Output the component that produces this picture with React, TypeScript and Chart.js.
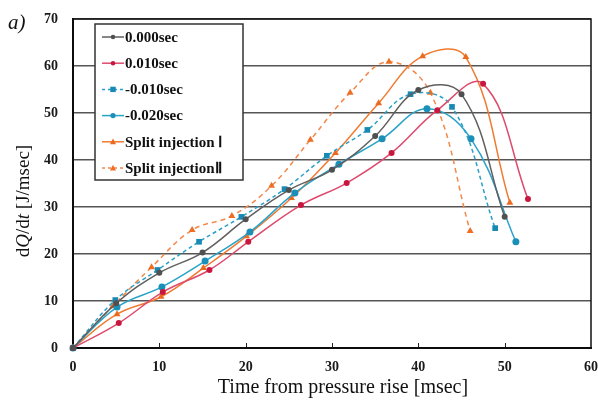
import React, { useEffect, useRef } from "react";
import { Chart, registerables } from "chart.js";

Chart.register(...registerables);

// ---- data ----
const xTickValues = [0, 10, 20, 30, 40, 50, 60];
const yTickValues = [0, 10, 20, 30, 40, 50, 60, 70];

const seriesLabels = [
  "0.000sec",
  "0.010sec",
  "-0.010sec",
  "-0.020sec",
  "Split injection Ⅰ",
  "Split injectionⅡ",
];

const t000X = [0, 5, 10, 15, 20, 25, 30, 35, 40, 45, 50];
const t000Y = [0, 9.5, 16.0, 20.3, 27.4, 33.6, 37.9, 45.1, 54.9, 54.0, 27.9];

const t010X = [0, 5.3, 10.4, 15.8, 20.3, 26.4, 31.7, 36.9, 42.2, 47.5, 52.7];
const t010Y = [0, 5.3, 11.9, 16.6, 22.6, 30.4, 35.1, 41.5, 50.6, 56.2, 31.7];

const tm010X = [0, 4.9, 9.8, 14.6, 19.5, 24.5, 29.4, 34.1, 39.1, 43.9, 48.9];
const tm010Y = [0, 10.2, 16.6, 22.6, 27.9, 33.8, 40.9, 46.4, 54.0, 51.3, 25.5];

const tm020X = [0, 5.1, 10.3, 15.3, 20.5, 25.7, 30.8, 35.8, 41.0, 46.1, 51.3];
const tm020Y = [0, 8.7, 13.0, 18.5, 24.7, 33.0, 39.1, 44.5, 50.9, 44.5, 22.6];

const split1X = [0, 5.1, 10.2, 15.1, 20.1, 25.3, 30.4, 35.4, 40.5, 45.5, 50.6];
const split1Y = [0, 7.2, 10.9, 17.0, 23.8, 31.9, 41.5, 52.1, 62.1, 61.9, 30.9];

const split2X = [0, 4.6, 9.1, 13.8, 18.4, 23.0, 27.5, 32.1, 36.6, 41.4, 46.0];
const split2Y = [0, 8.9, 17.2, 25.1, 28.1, 34.5, 44.3, 54.3, 60.9, 54.3, 24.9];

const xTitle = "Time from pressure rise [msec]";
const panelLabel = "a)";

// ---- styles ----
const styles = [
  { line: "#5f5f5f", point: "#505050", dash: [] as number[], shape: "circle", r: 3 },
  { line: "#de4a6c", point: "#c8163e", dash: [] as number[], shape: "circle", r: 3 },
  { line: "#2a9fc8", point: "#1789b3", dash: [4, 3], shape: "rect", r: 4 },
  { line: "#2aa3c9", point: "#1a8fb8", dash: [] as number[], shape: "circle", r: 3.5 },
  { line: "#f07a30", point: "#ec6a1e", dash: [] as number[], shape: "triangle", r: 4 },
  { line: "#f3884a", point: "#ee6e24", dash: [5, 4], shape: "triangle", r: 4 },
];

const zip = (xs: number[], ys: number[]) => xs.map((x, i) => ({ x, y: ys[i] }));

const seriesData = [
  zip(t000X, t000Y),
  zip(t010X, t010Y),
  zip(tm010X, tm010Y),
  zip(tm020X, tm020Y),
  zip(split1X, split1Y),
  zip(split2X, split2Y),
];

const SERIF = "'Liberation Serif', 'Times New Roman', serif";

function drawMarker(ctx: CanvasRenderingContext2D, shape: string, x: number, y: number, r: number, color: string) {
  ctx.fillStyle = color;
  ctx.beginPath();
  if (shape === "circle") {
    ctx.arc(x, y, r, 0, Math.PI * 2);
  } else if (shape === "rect") {
    ctx.rect(x - r * 0.9, y - r * 0.9, r * 1.8, r * 1.8);
  } else {
    ctx.moveTo(x, y - r * 1.1);
    ctx.lineTo(x + r, y + r * 0.8);
    ctx.lineTo(x - r, y + r * 0.8);
    ctx.closePath();
  }
  ctx.fill();
}

const decorPlugin = {
  id: "decor",
  beforeDatasetsDraw(chart: any) {
    const { ctx, chartArea } = chart;
    const xs = chart.scales.x;
    ctx.save();
    // inward x ticks
    ctx.strokeStyle = "#222";
    ctx.lineWidth = 1;
    for (const v of xTickValues) {
      if (v === 0 || v === 60) continue;
      const px = Math.round(xs.getPixelForValue(v)) + 0.5;
      ctx.beginPath();
      ctx.moveTo(px, chartArea.bottom);
      ctx.lineTo(px, chartArea.bottom - 5);
      ctx.stroke();
    }
    // frame
    ctx.strokeStyle = "#111";
    ctx.lineWidth = 1.5;
    ctx.strokeRect(chartArea.left, chartArea.top, chartArea.right - chartArea.left, chartArea.bottom - chartArea.top);
    ctx.restore();
  },
  afterDraw(chart: any) {
    const { ctx } = chart;
    ctx.save();
    // legend box
    const lx = 95, ly = 24, lw = 148, lh = 156;
    ctx.fillStyle = "#fff";
    ctx.fillRect(lx, ly, lw, lh);
    ctx.strokeStyle = "#333";
    ctx.lineWidth = 1.5;
    ctx.strokeRect(lx, ly, lw, lh);
    ctx.font = `bold 15px ${SERIF}`;
    ctx.textBaseline = "middle";
    ctx.textAlign = "left";
    seriesLabels.forEach((label, i) => {
      const st = styles[i];
      const cy = ly + 13 + i * 26.2;
      ctx.strokeStyle = st.line;
      ctx.lineWidth = 1.5;
      ctx.setLineDash(st.dash.length ? [3, 3] : []);
      ctx.beginPath();
      ctx.moveTo(lx + 7, cy);
      ctx.lineTo(lx + 29, cy);
      ctx.stroke();
      ctx.setLineDash([]);
      drawMarker(ctx, st.shape, lx + 18, cy, st.r * 0.75, st.point);
      ctx.fillStyle = "#111";
      ctx.fillText(label, lx + 30, cy + 1);
    });

    // y-axis title with italic parts
    const parts = [
      { t: "d", it: false },
      { t: "Q", it: true },
      { t: "/d", it: false },
      { t: "t", it: true },
      { t: " [J/msec]", it: false },
    ];
    const fs = 19;
    let total = 0;
    for (const p of parts) {
      ctx.font = `${p.it ? "italic " : ""}${fs}px ${SERIF}`;
      total += ctx.measureText(p.t).width;
    }
    ctx.translate(24, 201);
    ctx.rotate(-Math.PI / 2);
    ctx.fillStyle = "#111";
    ctx.textBaseline = "middle";
    let cx = -total / 2;
    for (const p of parts) {
      ctx.font = `${p.it ? "italic " : ""}${fs}px ${SERIF}`;
      ctx.fillText(p.t, cx, 0);
      cx += ctx.measureText(p.t).width;
    }
    ctx.setTransform(1, 0, 0, 1, 0, 0);

    // x-axis title
    ctx.font = `20px ${SERIF}`;
    ctx.textAlign = "center";
    ctx.textBaseline = "alphabetic";
    ctx.fillStyle = "#111";
    ctx.fillText(xTitle, 343, 393);

    // panel label
    ctx.font = `italic 21px ${SERIF}`;
    ctx.textAlign = "left";
    ctx.fillText(panelLabel, 8, 29);
    ctx.restore();
  },
};

export default function App() {
  const ref = useRef<HTMLCanvasElement | null>(null);

  useEffect(() => {
    if (!ref.current) return;
    const chart = new Chart(ref.current, {
      type: "line",
      data: {
        datasets: seriesData.map((d, i) => ({
          label: seriesLabels[i],
          data: d,
          borderColor: styles[i].line,
          backgroundColor: styles[i].point,
          pointBackgroundColor: styles[i].point,
          pointBorderColor: styles[i].point,
          pointBorderWidth: 0,
          pointStyle: styles[i].shape as any,
          pointRadius: styles[i].r,
          borderWidth: 1.5,
          borderDash: styles[i].dash,
          tension: 0.4,
          fill: false,
          clip: false as any,
        })),
      },
      plugins: [decorPlugin],
      options: {
        animation: false,
        responsive: false,
        maintainAspectRatio: false,
        layout: { padding: { top: 19, right: 7, left: 0, bottom: 0 } },
        plugins: {
          legend: { display: false },
          tooltip: { enabled: false },
        },
        scales: {
          x: {
            type: "linear",
            min: 0,
            max: 60,
            afterBuildTicks: (s: any) => {
              s.ticks = xTickValues.map((v) => ({ value: v }));
            },
            ticks: {
              font: { family: SERIF, weight: "bold", size: 14 },
              color: "#1a1a1a",
              padding: 11,
              maxRotation: 0,
              autoSkip: false,
            },
            grid: { drawOnChartArea: false, drawTicks: false },
            border: { color: "#000", width: 2 },
            afterFit: (s: any) => {
              s.height = 53;
              s.paddingLeft = 0;
              s.paddingRight = 0;
            },
          },
          y: {
            type: "linear",
            min: 0,
            max: 70,
            afterBuildTicks: (s: any) => {
              s.ticks = yTickValues.map((v) => ({ value: v }));
            },
            ticks: {
              font: { family: SERIF, weight: "bold", size: 14 },
              color: "#1a1a1a",
              padding: 15,
              autoSkip: false,
            },
            grid: { color: "#555", lineWidth: 1.5, drawTicks: false },
            border: { color: "#000", width: 2 },
            afterFit: (s: any) => {
              s.width = 73;
              s.paddingTop = 0;
              s.paddingBottom = 0;
            },
          },
        },
      },
    });
    return () => chart.destroy();
  }, []);

  return (
    <div style={{ position: "fixed", left: 0, top: 0, width: 598, height: 401, background: "#fff" }}>
      <canvas ref={ref} width={598} height={401} style={{ width: 598, height: 401 }} />
    </div>
  );
}
